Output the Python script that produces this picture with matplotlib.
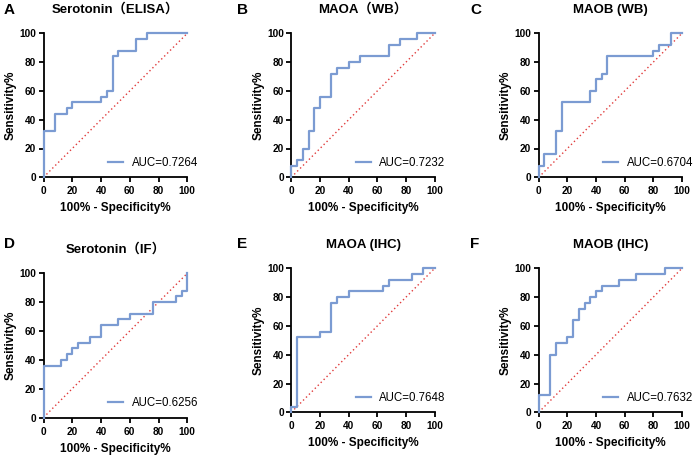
import matplotlib
matplotlib.use("Agg")
import matplotlib.pyplot as plt

plt.rcParams['font.family'] = ['Liberation Sans', 'Noto Sans CJK SC', 'DejaVu Sans']

# ROC curves: 100% - specificity (x) and sensitivity (y), step points
a_x = [0, 0, 8, 8, 16, 16, 20, 20, 40, 40, 44, 44, 48, 48, 52, 52, 64, 64, 72, 72, 100]
a_y = [0, 32, 32, 44, 44, 48, 48, 52, 52, 56, 56, 60, 60, 84, 84, 88, 88, 96, 96, 100, 100]

b_x = [0, 0, 4, 4, 8, 8, 12, 12, 16, 16, 20, 20, 28, 28, 32, 32, 40, 40, 48, 48, 68, 68, 76, 76, 88, 88, 100]
b_y = [0, 8, 8, 12, 12, 20, 20, 32, 32, 48, 48, 56, 56, 72, 72, 76, 76, 80, 80, 84, 84, 92, 92, 96, 96, 100, 100]

c_x = [0, 0, 4, 4, 12, 12, 16, 16, 36, 36, 40, 40, 44, 44, 48, 48, 80, 80, 84, 84, 92, 92, 100]
c_y = [0, 8, 8, 16, 16, 32, 32, 52, 52, 60, 60, 68, 68, 72, 72, 84, 84, 88, 88, 92, 92, 100, 100]

d_x = [0, 0, 12, 12, 16, 16, 20, 20, 24, 24, 32, 32, 40, 40, 52, 52, 60, 60, 76, 76, 92, 92, 96, 96, 100, 100]
d_y = [0, 36, 36, 40, 40, 44, 44, 48, 48, 52, 52, 56, 56, 64, 64, 68, 68, 72, 72, 80, 80, 84, 84, 88, 88, 100]

e_x = [0, 0, 4, 4, 20, 20, 28, 28, 32, 32, 40, 40, 64, 64, 68, 68, 84, 84, 92, 92, 100]
e_y = [0, 4, 4, 52, 52, 56, 56, 76, 76, 80, 80, 84, 84, 88, 88, 92, 92, 96, 96, 100, 100]

f_x = [0, 0, 8, 8, 12, 12, 20, 20, 24, 24, 28, 28, 32, 32, 36, 36, 40, 40, 44, 44, 56, 56, 68, 68, 88, 88, 100]
f_y = [0, 12, 12, 40, 40, 48, 48, 52, 52, 64, 64, 72, 72, 76, 76, 80, 80, 84, 84, 88, 88, 92, 92, 96, 96, 100, 100]

letters = ['A', 'B', 'C', 'D', 'E', 'F']
titles = ['Serotonin（ELISA）', 'MAOA（WB）', 'MAOB (WB)',
          'Serotonin（IF）', 'MAOA (IHC)', 'MAOB (IHC)']
aucs = ['0.7264', '0.7232', '0.6704', '0.6256', '0.7648', '0.7632']
curves = [(a_x, a_y), (b_x, b_y), (c_x, c_y), (d_x, d_y), (e_x, e_y), (f_x, f_y)]

W, H = 700, 458
# axes boxes in pixels: left, top, right, bottom
boxes = [(43.5, 33.3, 187.3, 177.3), (291.3, 33.3, 434.7, 177.3), (538.7, 33.3, 682, 177.3),
         (43.5, 273.3, 187.3, 417.5), (291.3, 268.3, 434.7, 412.3), (538.7, 268.3, 682, 412.3)]
letter_pos = [(4, 10), (237, 10), (470, 10), (4, 244), (237, 244), (470, 244)]

LINE = '#7b9bd2'

fig = plt.figure(figsize=(7, 4.58), dpi=100)

for i in range(6):
    l, t, r, b = boxes[i]
    ax = fig.add_axes([l / W, 1 - b / H, (r - l) / W, (b - t) / H])
    x, y = curves[i]
    ax.plot(x, y, color=LINE, lw=1.6, label=f'AUC={aucs[i]}', clip_on=False, zorder=3)
    ax.plot([0, 100], [0, 100], color='#e03a3a', lw=1.0, ls=(0, (1, 2)), zorder=2)
    ax.set_xlim(0, 100)
    ax.set_ylim(0, 100)
    ax.set_xticks(range(0, 101, 20))
    ax.set_yticks(range(0, 101, 20))
    for s in ['top', 'right']:
        ax.spines[s].set_visible(False)
    for s in ['left', 'bottom']:
        ax.spines[s].set_linewidth(1.3)
    ax.tick_params(width=1.3, length=3.6, labelsize=7.3)
    ax.tick_params(axis='x', pad=3)
    ax.tick_params(axis='y', pad=1.8)
    for lab in ax.get_xticklabels() + ax.get_yticklabels():
        lab.set_fontweight('bold')
    ax.set_xlabel('100% - Specificity%', fontsize=8.5, fontweight='bold', labelpad=4.3)
    ax.set_ylabel('Sensitivity%', fontsize=8.5, fontweight='bold', labelpad=2)
    ax.legend(loc='center left', bbox_to_anchor=(0.45, 0.098), frameon=False,
              fontsize=8.3, handlelength=1.3, handletextpad=0.75, borderpad=0,
              borderaxespad=0)
    fig.text((l + r) / 2 / W, 1 - (t - 23.5) / H, titles[i], fontsize=9.5,
             fontweight='bold', ha='center', va='center')
    lx, ly = letter_pos[i]
    fig.text(lx / W, 1 - ly / H, letters[i], fontsize=11, fontweight='bold',
             ha='left', va='center')

fig.savefig('out.png', dpi=100)
